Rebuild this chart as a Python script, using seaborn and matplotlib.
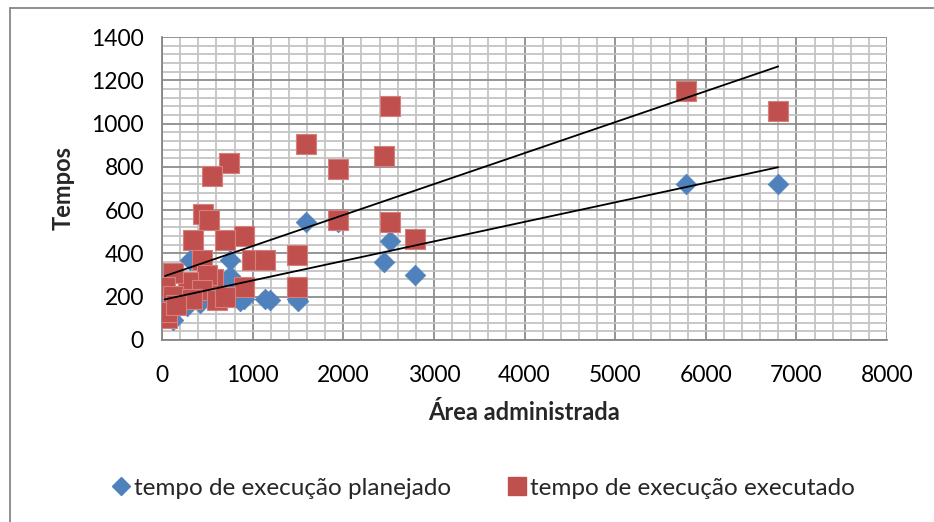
import numpy as np
import pandas as pd
import matplotlib
matplotlib.use("Agg")
import matplotlib.pyplot as plt
from matplotlib.lines import Line2D
from matplotlib.ticker import MultipleLocator
import seaborn as sns

# Área administrada x tempo de execução planejado
area_planejado = [5784, 6799, 1589, 1943, 2517, 2450, 2792, 1490, 1500, 1137,
                  1192, 905, 861, 309, 750, 750, 272, 419, 121, 620,
                  30, 993, 2517, 60, 150, 450, 550, 700, 200, 400,
                  100, 600, 800, 1490, 1137, 905]
tempo_planejado = [723, 723, 547, 547, 459, 362, 301, 190, 178, 190,
                   185, 190, 178, 371, 371, 294, 155, 171, 93, 263,
                   210, 371, 540, 120, 150, 230, 240, 210, 160, 190,
                   130, 220, 230, 394, 371, 482]

# Área administrada x tempo de execução executado
area_executado = [5784, 6799, 2517, 2450, 1589, 1943, 1943, 2517, 2792, 1490,
                  1490, 993, 1137, 905, 905, 736, 548, 453, 519, 342,
                  695, 438, 560, 493, 287, 121, 33, 52, 438, 603,
                  121, 60, 700, 330, 150]
tempo_executado = [1150, 1057, 1080, 848, 904, 788, 556, 547, 468, 394,
                   246, 371, 371, 246, 482, 819, 757, 580, 556, 464,
                   464, 371, 280, 301, 270, 310, 247, 102, 232, 185,
                   201, 130, 200, 190, 160]

x_ticks = [0, 1000, 2000, 3000, 4000, 5000, 6000, 7000, 8000]
y_ticks = [0, 200, 400, 600, 800, 1000, 1200, 1400]

lbl_planejado = "tempo de execução planejado"
lbl_executado = "tempo de execução executado"

df_p = pd.DataFrame({"area": area_planejado, "tempo": tempo_planejado})
df_e = pd.DataFrame({"area": area_executado, "tempo": tempo_executado})

sns.set_theme(style="white")
plt.rcParams["font.family"] = ["Lato", "DejaVu Sans"]

BLUE = "#4F81BD"
RED = "#C0504D"

fig = plt.figure(figsize=(9.34, 5.22), dpi=100)
ax = fig.add_axes([162 / 934, 1 - 340 / 522, 725 / 934, 303 / 522])

sns.scatterplot(data=df_p, x="area", y="tempo", marker="D", s=110,
                color=BLUE, edgecolor=BLUE, linewidth=0.5, ax=ax, zorder=3)
sns.scatterplot(data=df_e, x="area", y="tempo", marker="s", s=200,
                color=RED, edgecolor="#D77F7D", linewidth=0.8, ax=ax, zorder=4)

# linear trend lines
for df in (df_p, df_e):
    sns.regplot(data=df, x="area", y="tempo", scatter=False, ci=None,
                truncate=True, color="black", line_kws={"lw": 1.3, "zorder": 5},
                ax=ax)

ax.set_xlim(x_ticks[0], x_ticks[-1])
ax.set_ylim(y_ticks[0], y_ticks[-1])
ax.set_xticks(x_ticks)
ax.set_yticks(y_ticks)
ax.xaxis.set_minor_locator(MultipleLocator(200))
ax.yaxis.set_minor_locator(MultipleLocator(40))
ax.grid(which="major", color="#8C8C8C", lw=1.3, zorder=0)
ax.grid(which="minor", color="#C4C4C4", lw=1.3, zorder=0)
ax.set_axisbelow(True)

for side in ("top", "right"):
    ax.spines[side].set_visible(False)
for side in ("left", "bottom"):
    ax.spines[side].set_color("#868686")
    ax.spines[side].set_linewidth(1.3)

ax.tick_params(axis="both", which="major", direction="out", length=6,
               width=1.3, color="#868686", labelsize=16.5, labelcolor="black")
ax.tick_params(axis="x", which="major", pad=12)
ax.tick_params(axis="y", which="major", pad=7)
ax.tick_params(which="minor", length=0)

ax.set_xlabel("Área administrada", fontsize=17, fontweight="bold", labelpad=11)
ax.set_ylabel("Tempos", fontsize=17, fontweight="bold", labelpad=12)

handles = [
    Line2D([], [], marker="D", color=BLUE, linestyle="none", markersize=9),
    Line2D([], [], marker="s", color=RED, linestyle="none", markersize=13),
]
fig.legend(handles, [lbl_planejado, lbl_executado], loc="center",
           bbox_to_anchor=(482 / 934, 1 - 488 / 522), ncol=2, frameon=False,
           fontsize=17.5, handletextpad=0.05, columnspacing=2.2,
           handlelength=1.0)

# chart area border
fig.add_artist(Line2D([10 / 934, 1.0], [1 - 8 / 522, 1 - 8 / 522],
                      color="#868686", lw=1.3, transform=fig.transFigure))
fig.add_artist(Line2D([10 / 934, 10 / 934], [0.0, 1 - 8 / 522],
                      color="#868686", lw=1.3, transform=fig.transFigure))

fig.savefig("out.png", dpi=100)
